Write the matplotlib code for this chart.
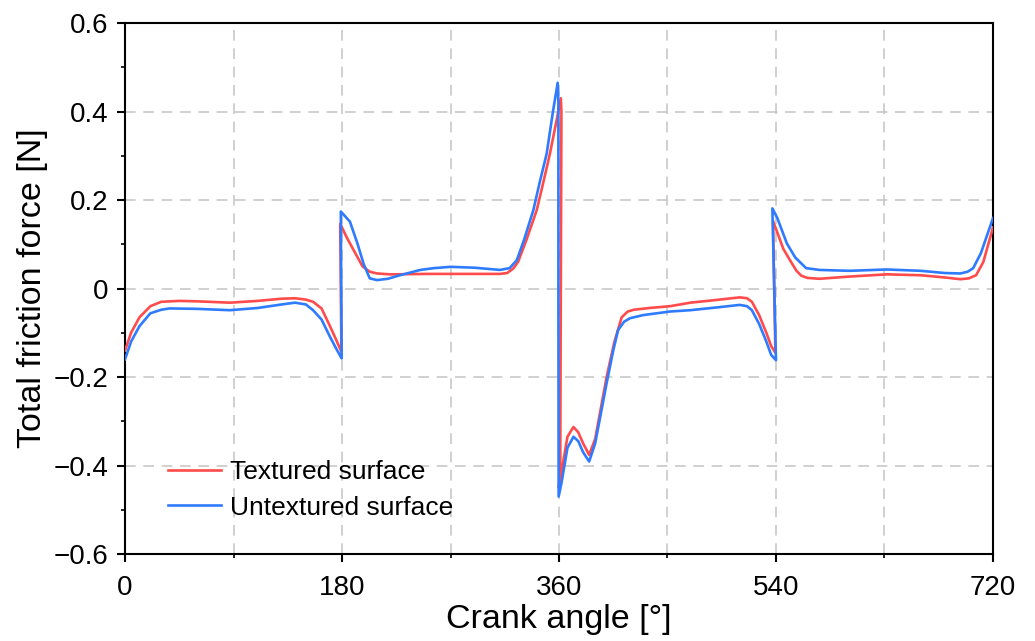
import numpy as np
import matplotlib
matplotlib.use("Agg")
import matplotlib.pyplot as plt
from matplotlib.ticker import MultipleLocator, FixedLocator, FixedFormatter

plt.rcParams['font.family'] = ['Liberation Sans', 'DejaVu Sans']

# textured liner: crank angle [deg] vs total friction force [N]
angle_tex = [0, 5, 12, 21, 30, 45, 60, 87, 110, 130, 141, 150, 156, 163, 170, 175, 179.5,
             178.5, 184, 190, 197, 203, 209, 220, 250, 280, 311, 317, 322, 326, 333, 341.5,
             347, 352.5, 358, 361.5, 362, 361.5, 361, 359.8, 363, 367, 372, 376, 380, 385,
             390, 399.5, 406, 412, 417, 422, 435, 452, 469, 490, 510, 516, 520, 526, 532,
             536, 539.5, 537.5, 542, 546, 551.6, 557, 561, 566, 576, 601, 632, 660, 680,
             693, 700, 706, 712, 720]
force_tex = [-0.14, -0.10, -0.065, -0.04, -0.03, -0.028, -0.029, -0.032, -0.028, -0.023,
             -0.022, -0.025, -0.03, -0.045, -0.085, -0.115, -0.143,
             0.146, 0.115, 0.085, 0.05, 0.038, 0.034, 0.032, 0.033, 0.033, 0.033, 0.035,
             0.045, 0.06, 0.11, 0.177, 0.24, 0.305, 0.38, 0.43, 0.40, 0.0, -0.42, -0.45,
             -0.40, -0.335, -0.313, -0.325, -0.35, -0.376, -0.34, -0.2, -0.12, -0.065,
             -0.052, -0.048, -0.044, -0.04, -0.032, -0.026, -0.02, -0.022, -0.03, -0.06,
             -0.10, -0.13, -0.145, 0.153, 0.12, 0.09, 0.064, 0.04, 0.029, 0.024, 0.022,
             0.027, 0.032, 0.03, 0.025, 0.021, 0.023, 0.03, 0.06, 0.138]

# untextured liner
angle_untex = [0, 5, 12, 21, 30, 37, 60, 87, 110, 130, 141, 150, 156, 163, 170, 175, 179.7,
               179, 182, 186.6, 193, 198, 203, 209, 218, 228, 245, 256, 270, 290, 311, 319,
               325, 331, 338.7, 344, 349.8, 355, 358.9, 359.5, 359.5, 359.7, 362, 367, 372,
               376, 380, 385, 390, 399.5, 405, 409, 414, 419, 430, 452, 469, 490, 510, 516,
               520, 526, 532, 536, 540, 537, 541, 549, 556, 565, 576, 601, 632, 660, 680,
               693, 699, 703.6, 710, 720]
force_untex = [-0.16, -0.12, -0.085, -0.056, -0.048, -0.045, -0.046, -0.049, -0.044, -0.036,
               -0.032, -0.036, -0.049, -0.07, -0.109, -0.135, -0.158,
               0.174, 0.165, 0.151, 0.1, 0.055, 0.023, 0.019, 0.022, 0.03, 0.042, 0.046,
               0.049, 0.047, 0.042, 0.046, 0.064, 0.11, 0.177, 0.24, 0.305, 0.4, 0.465, 0.42,
               0.0, -0.47, -0.44, -0.36, -0.335, -0.345, -0.37, -0.391, -0.35, -0.214, -0.14,
               -0.094, -0.075, -0.067, -0.06, -0.052, -0.049, -0.043, -0.037, -0.04, -0.049,
               -0.08, -0.12, -0.15, -0.162, 0.181, 0.16, 0.102, 0.07, 0.046, 0.042, 0.04,
               0.043, 0.04, 0.035, 0.034, 0.038, 0.046, 0.08, 0.159]

x_ticks = [0, 180, 360, 540, 720]
y_ticks = [-0.6, -0.4, -0.2, 0, 0.2, 0.4, 0.6]
y_labels = ['\u22120.6', '\u22120.4', '\u22120.2', '0', '0.2', '0.4', '0.6']

fig = plt.figure(figsize=(10.35, 6.41), dpi=100)
ax = fig.add_axes([0.1208, 0.1357, 0.8386, 0.8284])

ax.plot(angle_tex, force_tex, color='#FF4B4B', lw=1.9, label='Textured surface', zorder=3)
ax.plot(angle_untex, force_untex, color='#2E7BFF', lw=1.9, label='Untextured surface', zorder=3)

ax.set_xlim(0, 720)
ax.set_ylim(-0.6, 0.6)
ax.xaxis.set_major_locator(FixedLocator(x_ticks))
ax.xaxis.set_minor_locator(MultipleLocator(90))
ax.yaxis.set_major_locator(FixedLocator(y_ticks))
ax.yaxis.set_major_formatter(FixedFormatter(y_labels))
ax.yaxis.set_minor_locator(MultipleLocator(0.1))

# vertical grid every 90 deg, horizontal grid only on labelled values
grid_kw = dict(color='#c4c4c4', lw=1.1, linestyle=(0, (7, 5)), zorder=0)
ax.xaxis.grid(True, which='both', **grid_kw)
ax.yaxis.grid(True, which='major', **grid_kw)
ax.set_axisbelow(True)

for sp in ax.spines.values():
    sp.set_linewidth(1.5)
ax.tick_params(which='major', direction='out', length=6, width=1.5, labelsize=20, pad=6)
ax.tick_params(which='minor', direction='out', length=3, width=1.2)
ax.tick_params(axis='x', which='major', pad=9)

ax.set_xlabel('Crank angle [\u00b0]', fontsize=24.5, labelpad=2)
ax.set_ylabel('Total friction force [N]', fontsize=24.5, labelpad=4)

ax.legend(loc='lower left', bbox_to_anchor=(0.05, 0.065), frameon=False, fontsize=19,
          handlelength=2.0, handletextpad=0.35, labelspacing=0.42,
          borderpad=0, borderaxespad=0)

fig.savefig('out.png', dpi=100)
